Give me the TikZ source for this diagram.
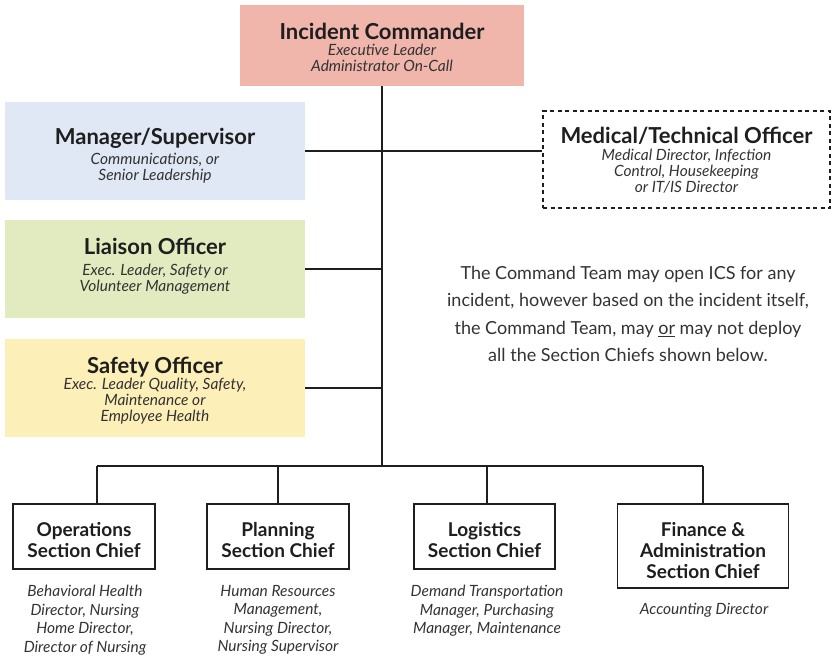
\documentclass[tikz,border=0pt]{standalone}
\usepackage{fontspec}
\setmainfont{Lato}
\definecolor{icfill}{HTML}{F0B5AB}
\definecolor{mgrfill}{HTML}{E0E8F5}
\definecolor{liafill}{HTML}{E2EBC0}
\definecolor{saffill}{HTML}{FCEFB8}
\definecolor{txt}{HTML}{1E1E1E}
\definecolor{sub}{HTML}{333333}
\newcommand{\myttl}{\fontsize{22}{16}\selectfont\upshape\bfseries\color{txt}}
\newcommand{\mychf}{\fontsize{19}{21}\selectfont\bfseries\color{txt}}
\newcommand{\myitl}{\fontsize{15.5}{16}\selectfont\mdseries\itshape\color{sub}}
\newcommand{\myitd}{\fontsize{15.5}{18.5}\selectfont\itshape\color{sub}}
\newcommand{\chs}{\rule{0pt}{21pt}}
\begin{document}
\begin{tikzpicture}[x=1pt,y=-1pt,
  colbox/.style={draw=none,inner sep=0pt},
  boxtext/.style={inner sep=0pt,align=center,font=\myitl},
  chiefbox/.style={draw=txt,line width=1.3pt,fill=white,inner sep=0pt,align=center,font=\mychf},
  desc/.style={inner sep=0pt,align=center,font=\myitd},
  conn/.style={draw=txt,line width=1.3pt}]
\useasboundingbox (0,0) rectangle (834,656);
% boxes
\node[colbox,fill=icfill,minimum width=284pt,minimum height=81pt] (ic) at (382,45.5) {};
\node[colbox,fill=mgrfill,minimum width=300pt,minimum height=98pt] (mgr) at (155,151) {};
\node[colbox,fill=liafill,minimum width=300pt,minimum height=98pt] (lia) at (155,269) {};
\node[colbox,fill=saffill,minimum width=300pt,minimum height=98pt] (saf) at (155,388) {};
\node[colbox,draw=txt,line width=1.2pt,dash pattern=on 4pt off 3.5pt,minimum width=287pt,minimum height=97pt] (med) at (686.5,159.5) {};
% texts in boxes
\node[boxtext] (ict) at ([yshift=-2pt]ic.center)
  {\myttl Incident Commander\\[0pt]Executive Leader\\Administrator On-Call};
\node[boxtext] (mgrt) at ([yshift=-5pt]mgr.center)
  {\myttl Manager/Supervisor\\[4pt]Communications, or\\Senior Leadership};
\node[boxtext] (liat) at ([yshift=3pt]lia.center)
  {\myttl Liaison Officer\\[5pt]Exec. Leader, Safety or\\Volunteer Management};
\node[boxtext] (saft) at ([yshift=-3pt]saf.center)
  {\myttl Safety Officer\\[0pt]Exec. Leader Quality, Safety,\\Maintenance or\\Employee Health};
\node[boxtext] (medt) at ([yshift=-1pt]med.center)
  {\myttl Medical/Technical Officer\\[1pt]Medical Director, Infection\\Control, Housekeeping\\or IT/IS Director};
\node[inner sep=0pt,align=center,font=\fontsize{18}{27.5}\selectfont,text=sub] (note) at (628,314)
  {The Command Team may open ICS for any\\incident, however based on the incident itself,\\the Command Team, may \underline{or} may not deploy\\all the Section Chiefs shown below.};
% section chiefs
\node[chiefbox,minimum width=142pt,minimum height=65pt] (ops) at (84,536.5)
  {\chs Operations\\Section Chief};
\node[chiefbox,minimum width=142pt,minimum height=65pt] (pla) at (278,536.5)
  {\chs Planning\\Section Chief};
\node[chiefbox,minimum width=141pt,minimum height=65pt] (log) at (484.5,536.5)
  {\chs Logistics\\Section Chief};
\node[chiefbox,minimum width=171pt,minimum height=84pt] (fin) at (703,546)
  {\rule{0pt}{24pt}Finance \&\\Administration\\Section Chief};
\node[desc,anchor=north] (opsd) at (85,585) {Behavioral Health\\Director, Nursing\\Home Director,\\Director of Nursing};
\node[desc,anchor=north] (plad) at (278,585) {Human Resources\\Management,\\Nursing Director,\\Nursing Supervisor};
\node[desc,anchor=north] (logd) at (487,585) {Demand Transportation\\Manager, Purchasing\\Manager, Maintenance};
\node[desc,anchor=north] (find) at (704,603) {Accounting Director};
% connectors
\coordinate (bus) at (382,466);
\coordinate (opstop) at ([xshift=13pt]ops.north);
\coordinate (logtop) at ([xshift=2.5pt]log.north);
\draw[conn] (ic.south) -- (ic.south |- bus);
\draw[conn] (mgr.east) -- (mgr.east -| med.west);
\draw[conn] (lia.east) -- (lia.east -| ic.south);
\draw[conn] (saf.east) -- (saf.east -| ic.south);
\draw[conn] (opstop |- bus) -- (fin.north |- bus);
\draw[conn] (opstop) -- (opstop |- bus);
\draw[conn] (pla.north) -- (pla.north |- bus);
\draw[conn] (logtop) -- (logtop |- bus);
\draw[conn] (fin.north) -- (fin.north |- bus);
\end{tikzpicture}
\end{document}
